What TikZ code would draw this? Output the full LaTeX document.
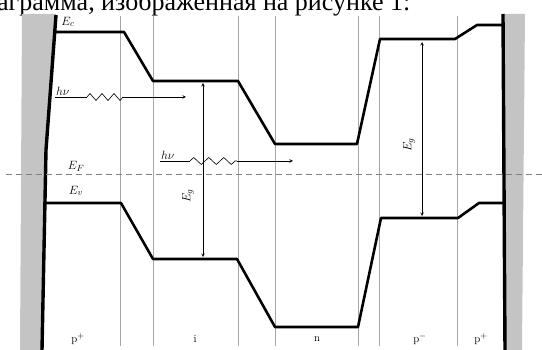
\documentclass[tikz,border=0pt]{standalone}
\usepackage{fontspec}
\newfontfamily\cyrfont{Liberation Serif}
\usetikzlibrary{arrows,decorations.pathmorphing,positioning,calc}

\begin{document}
\begin{tikzpicture}[x=1pt, y=-1pt,
    band/.style={line width=2.6pt, line join=round},
    contact/.style={line width=3.4pt},
    border/.style={gray!70, line width=0.7pt},
    level/.style={font=\fontsize{13}{15}\selectfont, inner sep=1pt},
    region/.style={font=\fontsize{11}{13}\selectfont, inner sep=1pt},
    photon/.style={decorate, decoration={zigzag, amplitude=3.5pt, segment length=12pt}},
    gap/.style={<->, >=stealth, line width=0.6pt}]
    % Color Palette
    \definecolor{metalGray}{HTML}{C4C4C4}
    \definecolor{fermiGray}{HTML}{808080}

    \useasboundingbox (0,0) rectangle (542,350);
    \clip (0,0) rectangle (542,350);

    % --- Caption line (cut by the page edge) ---
    \node[anchor=base west, inner sep=0pt, font=\cyrfont\fontsize{26}{28}\selectfont] (caption) at (-3,11) {аграмма, изображенная на рисунке 1:};

    % --- Metal contacts ---
    \fill[metalGray] (22,14) -- (56,14) -- (46,150) -- (42,350) -- (20,350) -- cycle;
    \fill[metalGray] (503,14) -- (525,14) -- (522,350) -- (505,350) -- cycle;
    \draw[contact] (56,15) -- (46,150) -- (42,350);
    \draw[contact] (503,14) -- (505,350);

    % --- Region borders ---
    \foreach \xb in {120,153,238,275,358,379,457}
        \draw[border] (\xb,16) -- (\xb,346);

    % --- Fermi level ---
    \draw[fermiGray, dash pattern=on 6pt off 4pt, line width=0.6pt] (6,174) -- (542,174);

    % --- Conduction band ---
    \draw[band] (55,32) -- (124,32) -- (153,81) -- (238,81) -- (275,144) -- (357,144) -- (380,39) -- (455,39) -- (477,25) -- (503,25);

    % --- Valence band ---
    \draw[band] (45,203) -- (121,203) -- (153,259) -- (237,259) -- (275,327) -- (358,327) -- (381,218) -- (458,218) -- (479,203) -- (503,203);

    % Level labels
    \node[level] (Ec) at (68,22) {$E_c$};
    \node[level] (EF) at (76,166) {$E_F$};
    \node[level] (Ev) at (76,191) {$E_v$};

    % --- Photons ---
    \node[level, anchor=south west] (hv1) at (55,97) {$h\nu$};
    \coordinate (w1) at (87,97);
    \coordinate (w1e) at (123,97);
    \coordinate (a1) at (186,97);
    \draw[line width=0.6pt] (hv1.south west) -- (w1);
    \draw[line width=0.6pt, photon] (w1) -- (w1e);
    \draw[->, >=stealth, line width=0.6pt] (w1e) -- (a1);

    \node[level, anchor=south west] (hv2) at (160,161) {$h\nu$};
    \coordinate (w2) at (190,161);
    \coordinate (w2e) at (237,161);
    \coordinate (a2) at (293,161);
    \draw[line width=0.6pt] (hv2.south west) -- (w2);
    \draw[line width=0.6pt, photon, decoration={segment length=15pt}] (w2) -- (w2e);
    \draw[->, >=stealth, line width=0.6pt] (w2e) -- (a2);

    % --- Band gaps ---
    \coordinate (g1t) at (203,83);
    \coordinate (g1b) at (203,257);
    \draw[gap] (g1t) -- (g1b);
    \node[level, rotate=90] (Eg1) at (188,196) {$E_g$};

    \coordinate (g2t) at (422,42);
    \coordinate (g2b) at (422,216);
    \draw[gap] (g2t) -- (g2b);
    \node[level, rotate=90] (Eg2) at (409,145) {$E_g$};

    % --- Region names ---
    \node[region] (r1) at (78,339) {p$^+$};
    \node[region] (r2) at (195,339) {i};
    \node[region] (r3) at (317,339) {n};
    \node[region] (r4) at (420,339) {p$^-$};
    \node[region] (r5) at (481,339) {p$^+$};

\end{tikzpicture}
\end{document}
